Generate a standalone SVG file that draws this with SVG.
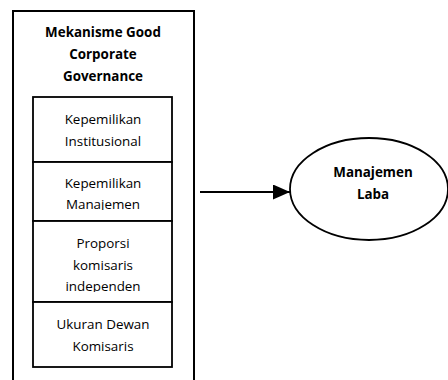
<svg xmlns="http://www.w3.org/2000/svg" width="448" height="380" viewBox="0 0 448 380">
  <style>
    .frame { fill: none; stroke: #000; stroke-width: 2; }
    .cell { fill: #fff; stroke: #000; stroke-width: 1.8; }
    .title { font-family: "Open Sans", "Noto Sans", sans-serif; font-size: 13.4px; font-weight: bold; text-anchor: middle; fill: #000; }
    .label { font-family: "Open Sans", "Noto Sans", sans-serif; font-size: 13.4px; text-anchor: middle; fill: #000; }
    .link { stroke: #000; stroke-width: 2; fill: none; }
  </style>
  <defs>
    <marker id="arrow" viewBox="0 0 17 15" refX="17" refY="7.5" markerWidth="17" markerHeight="15" markerUnits="userSpaceOnUse" orient="auto">
      <path d="M0,0 L17,7.5 L0,15 Z" fill="#000"/>
    </marker>
    <clipPath id="clip-manajemen"><rect x="34" y="163" width="137" height="47"/></clipPath>
    <clipPath id="clip-proporsi"><rect x="34" y="222" width="137" height="70"/></clipPath>
  </defs>
  <rect width="448" height="380" fill="#fff"/>

  <!-- outer frame: open at the bottom edge -->
  <g id="gcg">
    <path class="frame" d="M13,390 V11 H194 V390"/>
    <text class="title" x="103" y="37">Mekanisme Good</text>
    <text class="title" x="103" y="59">Corporate</text>
    <text class="title" x="103" y="81">Governance</text>
  </g>

  <g id="kepemilikan-institusional">
    <rect class="cell" x="33" y="97" width="139" height="65"/>
    <text class="label" x="103" y="124">Kepemilikan</text>
    <text class="label" x="103" y="146">Institusional</text>
  </g>

  <g id="kepemilikan-manajemen">
    <rect class="cell" x="33" y="162" width="139" height="59"/>
    <g clip-path="url(#clip-manajemen)">
      <text class="label" x="103" y="188">Kepemilikan</text>
      <text class="label" x="103" y="209">Manajemen</text>
    </g>
  </g>

  <g id="proporsi-komisaris">
    <rect class="cell" x="33" y="221" width="139" height="81"/>
    <g clip-path="url(#clip-proporsi)">
      <text class="label" x="103" y="248">Proporsi</text>
      <text class="label" x="103" y="270">komisaris</text>
      <text class="label" x="103" y="291">independen</text>
    </g>
  </g>

  <g id="ukuran-dewan">
    <rect class="cell" x="33" y="302" width="139" height="65"/>
    <text class="label" x="103" y="329">Ukuran Dewan</text>
    <text class="label" x="103" y="351">Komisaris</text>
  </g>

  <g id="manajemen-laba">
    <ellipse cx="369" cy="189" rx="79" ry="51" fill="#fff" stroke="#000" stroke-width="1.8"/>
    <text class="title" x="373" y="177">Manajemen</text>
    <text class="title" x="373" y="199">Laba</text>
  </g>

  <g id="connectors">
    <line class="link" x1="200" y1="192" x2="290" y2="192" marker-end="url(#arrow)"/>
  </g>
</svg>
